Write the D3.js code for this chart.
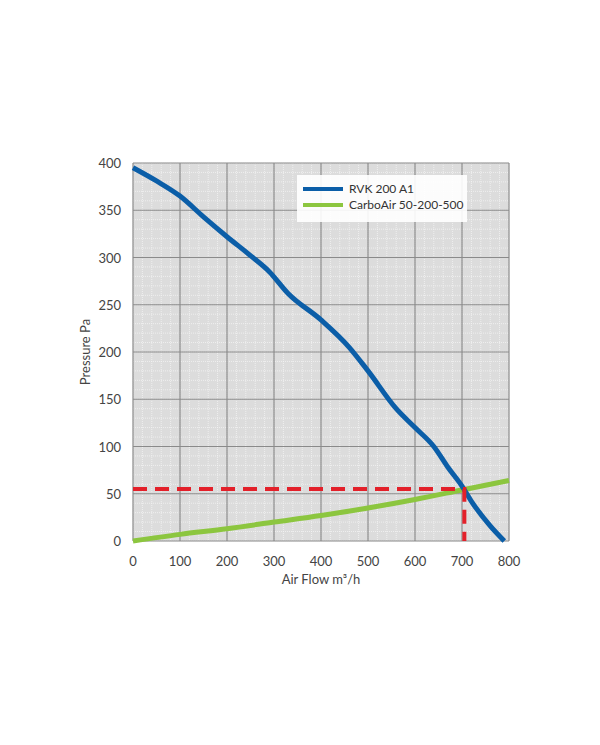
<!DOCTYPE html>
<html><head><meta charset="utf-8">
<script src="https://cdn.jsdelivr.net/npm/d3@7"></script>
<style>body{margin:0;background:#fff}</style></head>
<body><div id="chart"></div>
<script>
const xTicks = [0,100,200,300,400,500,600,700,800];
const yTicks = [0,50,100,150,200,250,300,350,400];
const rvkFlow = [0,50,100,150,200,250,290,330,400,460,500,560,600,640,670,700,720,760,790];
const rvkPressure = [395,381,365,343,322,302,285,262,234,205,180,140,120,100,78,58,42,16,0];
const carboFlow = [0,100,200,300,400,500,600,700,800];
const carboPressure = [0,7,13,20,27,35,44,54,64];
const opFlow = 705, opPressure = 55;

const svg = d3.select('#chart').append('svg').attr('width',600).attr('height',745);
const x = d3.scaleLinear().domain([0,800]).range([133,509]);
const y = d3.scaleLinear().domain([0,400]).range([541,163]);

svg.append('rect').attr('x',133).attr('y',163).attr('width',376).attr('height',378).attr('fill','#dcdcdc');
const minorX = d3.range(0,801,20), minorY = d3.range(0,401,10);
svg.selectAll('.mx').data(minorX).enter().append('line')
  .attr('x1',d=>x(d)).attr('x2',d=>x(d)).attr('y1',163).attr('y2',541)
  .attr('stroke','#f4f4f4').attr('stroke-width',0.8).attr('stroke-dasharray','1,1');
svg.selectAll('.my').data(minorY).enter().append('line')
  .attr('y1',d=>y(d)).attr('y2',d=>y(d)).attr('x1',133).attr('x2',509)
  .attr('stroke','#f4f4f4').attr('stroke-width',0.8).attr('stroke-dasharray','1,1');
svg.selectAll('.gx').data(xTicks).enter().append('line')
  .attr('x1',d=>x(d)).attr('x2',d=>x(d)).attr('y1',163).attr('y2',541)
  .attr('stroke','#8a8a8a').attr('stroke-width',1.2);
svg.selectAll('.gy').data(yTicks).enter().append('line')
  .attr('y1',d=>y(d)).attr('y2',d=>y(d)).attr('x1',133).attr('x2',509)
  .attr('stroke','#8a8a8a').attr('stroke-width',1.2);

const font = 'Lato, "Open Sans", sans-serif';
svg.selectAll('.xl').data(xTicks).enter().append('text')
  .attr('x',d=>x(d)).attr('y',566).attr('text-anchor','middle')
  .attr('font-family',font).attr('font-size',13).attr('fill','#444').text(d=>d);
svg.selectAll('.yl').data(yTicks).enter().append('text')
  .attr('x',146 - 25).attr('y',d=>y(d)+5).attr('text-anchor','end')
  .attr('font-family',font).attr('font-size',13).attr('fill','#444').text(d=>d);
svg.append('text').attr('x',x(400)).attr('y',584).attr('text-anchor','middle')
  .attr('font-family',font).attr('font-size',13).attr('fill','#444').text('Air Flow m³/h');
svg.append('text').attr('transform','translate(90,352) rotate(-90)').attr('text-anchor','middle')
  .attr('font-family',font).attr('font-size',13).attr('fill','#444').text('Pressure Pa');

const line = d3.line().x(d=>x(d[0])).y(d=>y(d[1])).curve(d3.curveMonotoneX);
svg.append('path').datum(carboFlow.map((f,i)=>[f,carboPressure[i]]))
  .attr('d',line).attr('fill','none').attr('stroke','#8cc63f').attr('stroke-width',5);
svg.append('path').datum(rvkFlow.map((f,i)=>[f,rvkPressure[i]]))
  .attr('d',line).attr('fill','none').attr('stroke','#0b5ea8').attr('stroke-width',5);

svg.append('path')
  .attr('d',`M${x(0)},${y(opPressure)}H${x(opFlow)}V${y(0)}`)
  .attr('fill','none').attr('stroke','#e3202a').attr('stroke-width',4).attr('stroke-dasharray','14,8');

const lg = svg.append('g');
lg.append('rect').attr('x',297).attr('y',175).attr('width',170).attr('height',47).attr('fill','#fff').attr('opacity',0.9);
[['RVK 200 A1','#0b5ea8'],['CarboAir 50-200-500','#8cc63f']].forEach((d,i)=>{
  lg.append('line').attr('x1',303).attr('x2',343).attr('y1',189+i*16).attr('y2',189+i*16)
    .attr('stroke',d[1]).attr('stroke-width',4);
  lg.append('text').attr('x',349).attr('y',193+i*16).attr('font-family',font)
    .attr('font-size',12).attr('fill','#333').text(d[0]);
});
</script></body></html>
